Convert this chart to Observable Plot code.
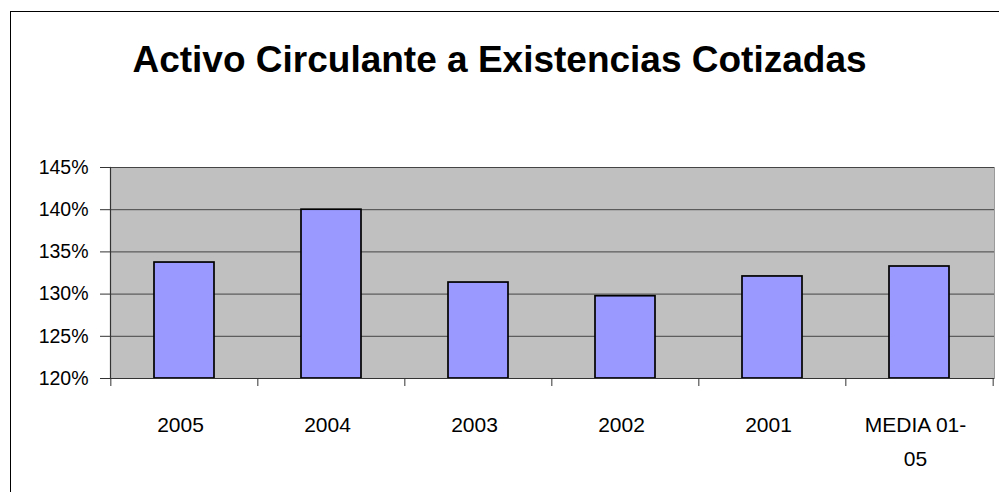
<!DOCTYPE html>
<html>
<head>
<meta charset="utf-8">
<script src="https://cdn.jsdelivr.net/npm/d3@7"></script>
<script src="https://cdn.jsdelivr.net/npm/@observablehq/plot@0.6"></script>
<style>
  html, body { margin: 0; padding: 0; background: #fff; }
  #chart { position: relative; width: 999px; height: 492px; overflow: hidden; background: #fff;
           font-family: "Liberation Sans", Arial, sans-serif; color: #000; }
  #border { position: absolute; left: 10px; top: 11px; width: 1100px; height: 600px;
            border: 1px solid #000; pointer-events: none; z-index: 2; }
  #title { position: absolute; left: 0; top: 41px; width: 999px; text-align: center;
           font-size: 37px; line-height: 37px; font-weight: bold; }
  #plot { position: absolute; left: 0; top: 120px; }
</style>
</head>
<body>
<div id="chart">
  <div id="title">Activo Circulante a Existencias Cotizadas</div>
  <div id="plot"></div>
  <div id="border"></div>
</div>
<script>
// Ratio of current assets to listed stock, by year, plus the 2001–05 mean
const categories = ["2005", "2004", "2003", "2002", "2001", "MEDIA 01-05"];
const values = [1.3374, 1.4000, 1.3137, 1.2975, 1.3209, 1.3327];
const tickLabels = ["2005", "2004", "2003", "2002", "2001", "MEDIA 01-\n05"];
const yTicks = [1.20, 1.25, 1.30, 1.35, 1.40, 1.45];

const data = categories.map((c, i) => ({category: c, value: values[i]}));
const labelOf = new Map(categories.map((c, i) => [c, tickLabels[i]]));
const yMin = yTicks[0];

const width = 999, height = 372;
const marginLeft = 110, marginRight = 5, marginTop = 47, marginBottom = 114;
// ticks sit on the boundaries between categories, half a band step from each centre
const step = (width - marginLeft - marginRight) / categories.length;

const chart = Plot.plot({
  width, height, marginLeft, marginRight, marginTop, marginBottom,
  style: {fontFamily: '"Liberation Sans", Arial, sans-serif', color: "#000", background: "transparent"},
  x: {domain: categories, paddingInner: 0.59, paddingOuter: 0.295, axis: null, label: null},
  y: {domain: [yTicks[0], yTicks[yTicks.length - 1]], axis: null, label: null},
  marks: [
    Plot.frame({fill: "#C0C0C0", stroke: "#9a9a9a"}),
    Plot.gridY(yTicks, {stroke: "#444", strokeOpacity: 1, strokeWidth: 1}),
    Plot.barY(data, {x: "category", y1: yMin, y2: "value", fill: "#9999FF", stroke: "#000", strokeWidth: 1.7}),
    Plot.ruleY([yMin], {stroke: "#333", strokeWidth: 1.2}),
    Plot.frame({anchor: "left", stroke: "#333", strokeWidth: 1.2}),
    Plot.axisY({ticks: yTicks, tickFormat: d3.format(".0%"), tickSize: 10, tickPadding: 12,
                fontSize: 19.5, stroke: "#333", label: null}),
    Plot.axisX({ticks: categories, tickSize: 8, text: null, dx: -step / 2, stroke: "#333", label: null}),
    Plot.axisX({ticks: categories.slice(-1), tickSize: 8, text: null, dx: step / 2, stroke: "#333", label: null}),
    Plot.axisX({ticks: categories, tickSize: 0, tickPadding: 29, fontSize: 21, lineHeight: 1.62,
                dx: -4, tickFormat: d => labelOf.get(d), label: null})
  ]
});
document.getElementById("plot").appendChild(chart);
</script>
</body>
</html>
